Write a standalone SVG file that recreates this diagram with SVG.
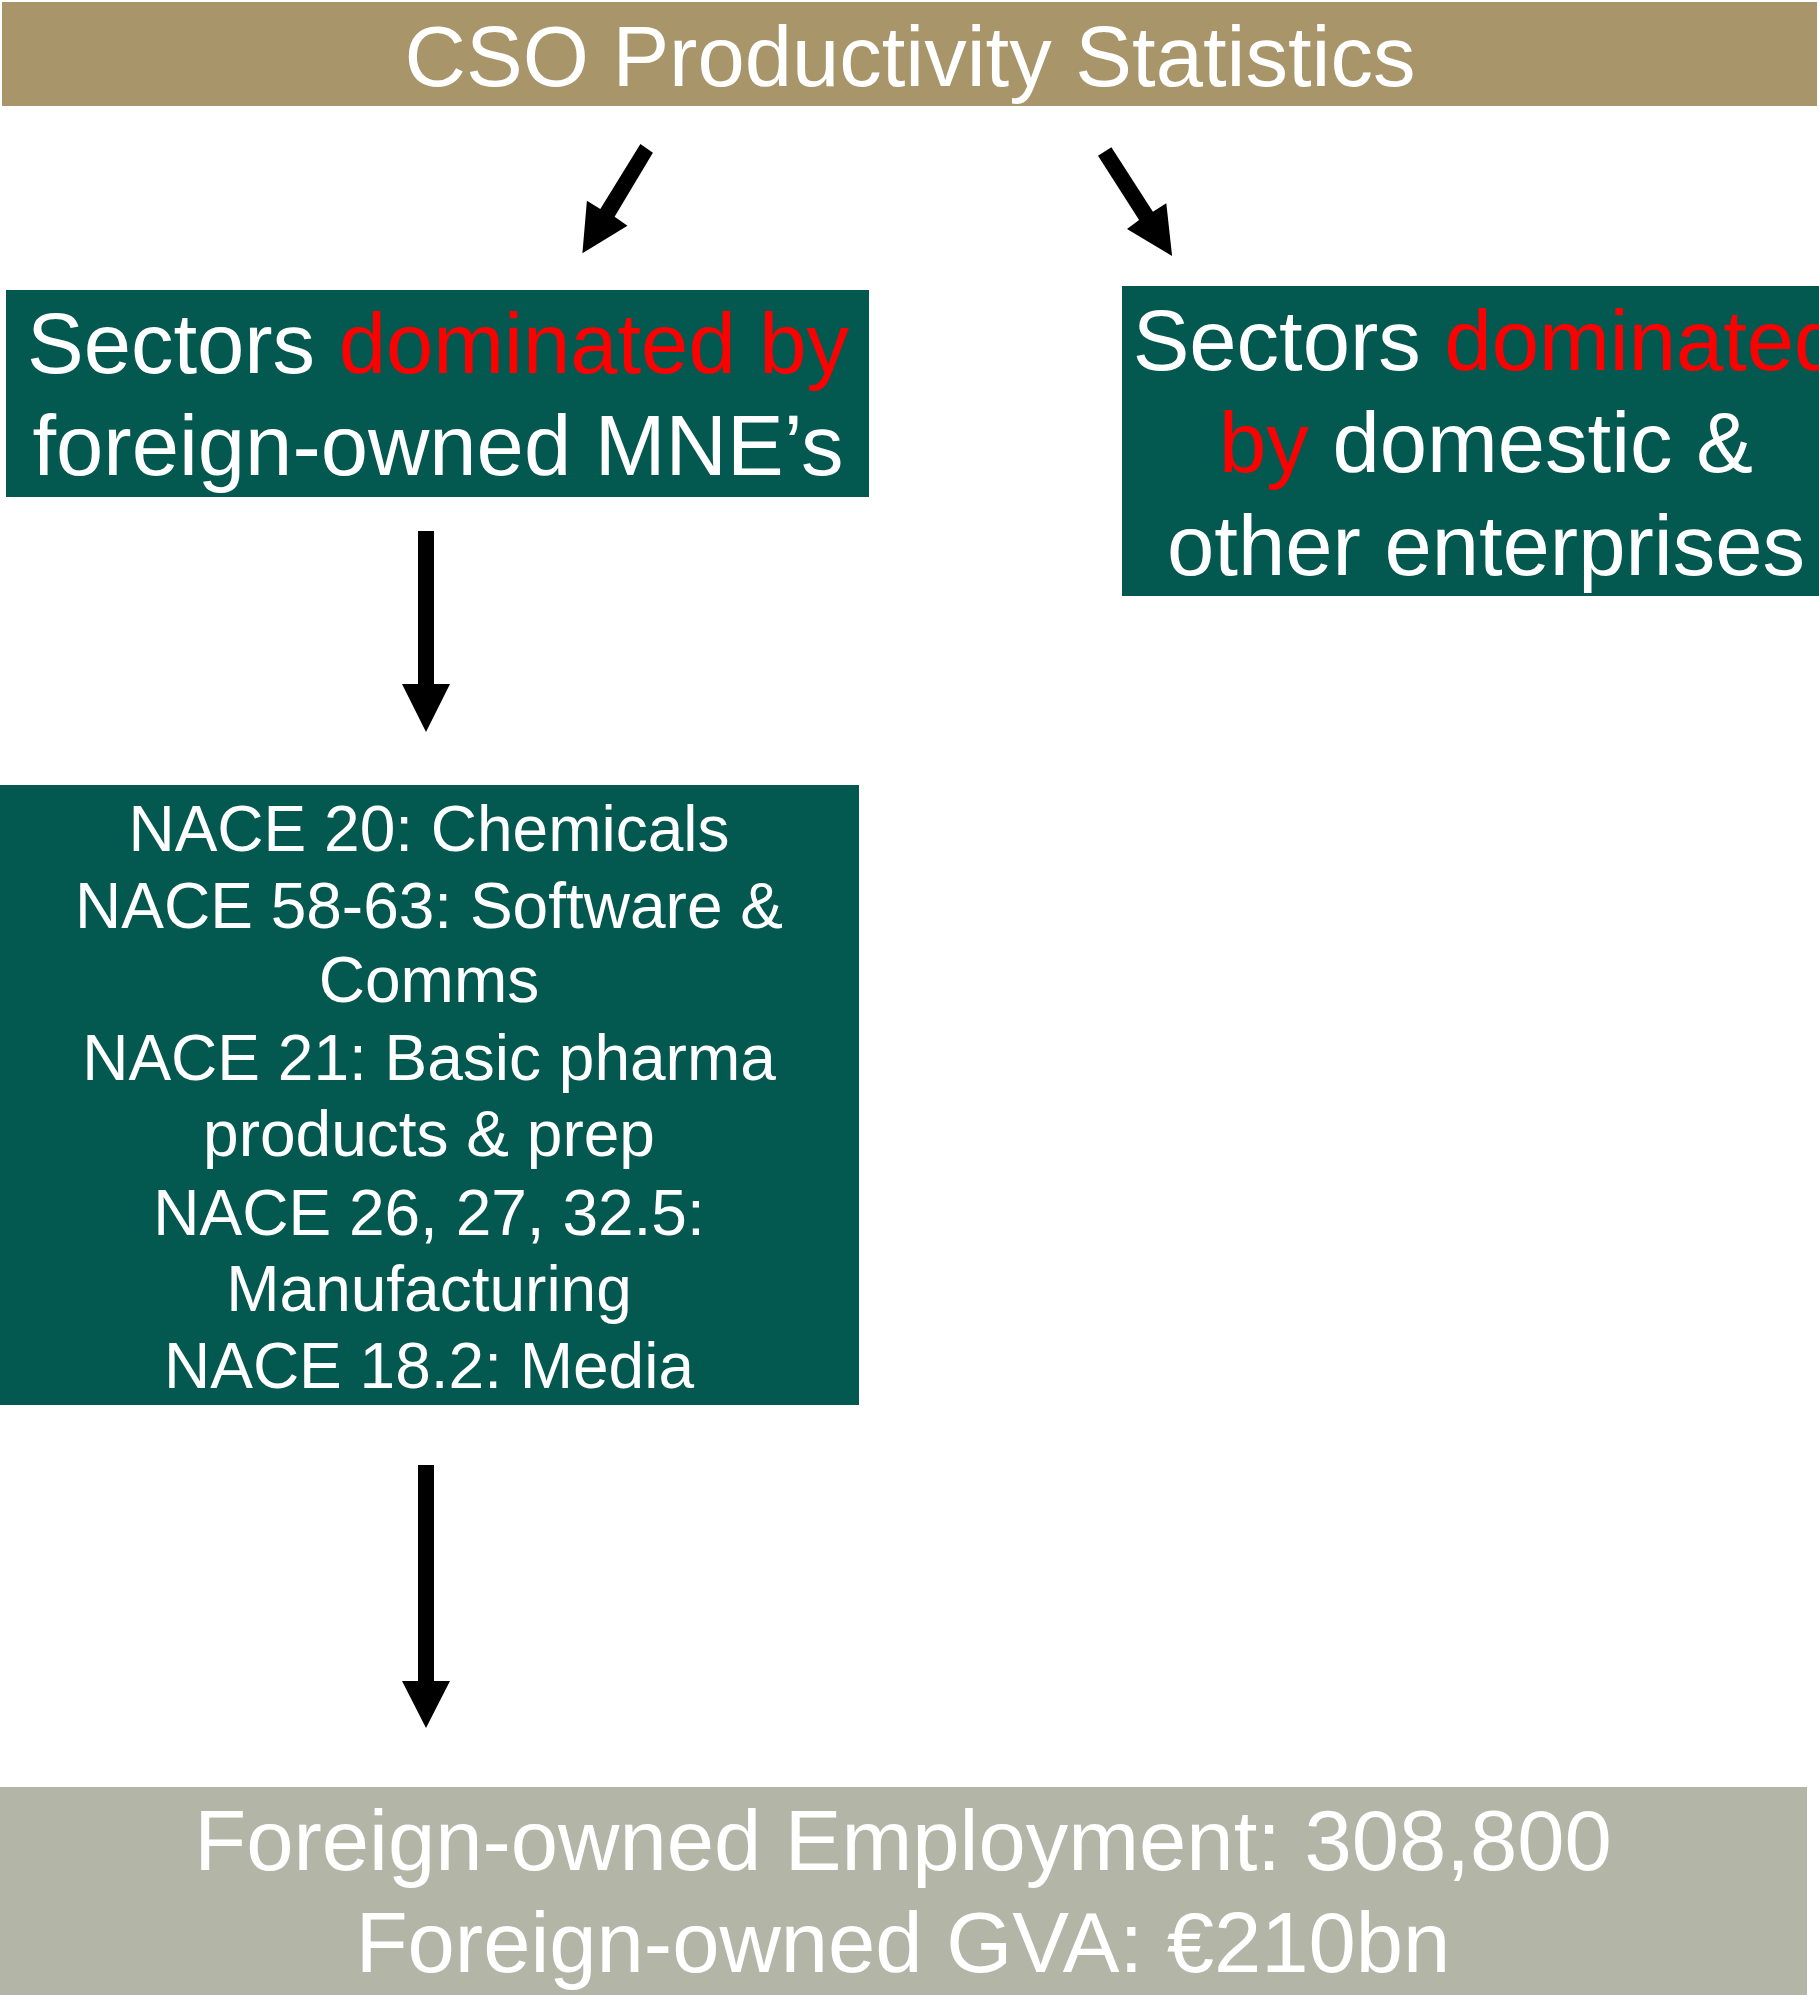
<svg xmlns="http://www.w3.org/2000/svg" width="1819" height="1995" viewBox="0 0 1819 1995">
<style>
  text { font-family: "Liberation Sans", Arial, sans-serif; fill: #FFFFFF; text-anchor: middle; }
  .big { font-size: 85px; }
  .mid { font-size: 64px; }
  .red { fill: #FF0000; }
  .teal { fill: #03594F; }
  .arrow { fill: #000000; }
</style>
<rect x="0" y="0" width="1819" height="1995" fill="#FFFFFF"/>
<g id="node-cso">
  <rect x="2" y="2" width="1815" height="104" fill="#A8956A"/>
  <text class="big" x="910" y="86">CSO Productivity Statistics</text>
</g>
<g id="node-foreign">
  <rect class="teal" x="6" y="290" width="863" height="207"/>
  <text class="big" x="438" y="373">Sectors <tspan class="red">dominated by</tspan></text>
  <text class="big" x="438" y="475">foreign-owned MNE’s</text>
</g>
<g id="node-domestic">
  <rect class="teal" x="1122" y="286" width="750" height="310"/>
  <text class="big" x="1487" y="370">Sectors <tspan class="red">dominated</tspan></text>
  <text class="big" x="1486" y="472"><tspan class="red">by</tspan> domestic &amp;</text>
  <text class="big" x="1486" y="575">other enterprises</text>
</g>
<g id="node-nace">
  <rect class="teal" x="0" y="785" width="859" height="620"/>
  <text class="mid" x="429" y="851">NACE 20: Chemicals</text>
  <text class="mid" x="429" y="928">NACE 58-63: Software &amp;</text>
  <text class="mid" x="429" y="1002">Comms</text>
  <text class="mid" x="429" y="1080">NACE 21: Basic pharma</text>
  <text class="mid" x="429" y="1156">products &amp; prep</text>
  <text class="mid" x="429" y="1235">NACE 26, 27, 32.5:</text>
  <text class="mid" x="429" y="1311">Manufacturing</text>
  <text class="mid" x="429" y="1388">NACE 18.2: Media</text>
</g>
<g id="node-totals">
  <rect x="0" y="1787" width="1807" height="208" fill="#B3B5A7"/>
  <text class="big" x="903" y="1870">Foreign-owned Employment: 308,800</text>
  <text class="big" x="903" y="1972">Foreign-owned GVA: €210bn</text>
</g>
<g id="connectors">
  <polygon class="arrow" points="640.4,144 652.9,152.7 614.6,216.7 627.5,225.7 582.4,253.3 586.9,200.7 600.3,209"/>
  <polygon class="arrow" points="1098,155.7 1111.4,147.3 1152.9,211.7 1166.3,203.3 1172.1,256 1127,229 1139.1,220"/>
  <polygon class="arrow" points="418,531 434,531 434,684 450,684 426,732 402,684 418,684"/>
  <polygon class="arrow" points="418,1465 434,1465 434,1681 450,1681 426,1728 402,1681 418,1681"/>
</g>
</svg>
